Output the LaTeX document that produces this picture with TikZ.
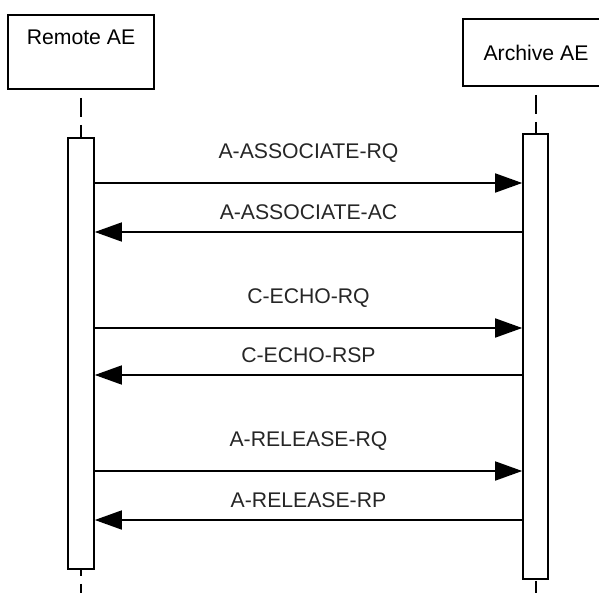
\documentclass[tikz,border=0pt]{standalone}
\usepackage{fontspec}
\setmainfont{Liberation Sans}
\usetikzlibrary{positioning, arrows.meta}
\tikzset{
x=0.5pt, y=-0.5pt, % one unit is one pixel of the drawing, y runs down
actor/.style={draw, thick, fill=white, minimum width=73pt, inner sep=0pt, font=\fontsize{10.6pt}{12pt}\selectfont}, % the boxes on top
bar/.style={draw, thick, fill=white, minimum width=13pt, anchor=north}, % activation bars
lifeline/.style={thick, dash pattern=on 9.5pt off 4pt, dash phase=9.5pt},
msg/.style={thick, -{Triangle[length=13.5pt, width=9.5pt]}}, % message arrows
rq/.style={midway, yshift=15pt, text=black!85, font=\fontsize{10.6pt}{12pt}\selectfont},
rsp/.style={rq, yshift=-5pt},
}
\begin{document}
\begin{tikzpicture}
        \useasboundingbox (0,0) rectangle (599,593);
        \clip (0,0) rectangle (599,593);

        \node[actor, minimum height=37pt, text height=8pt, text depth=15.4pt] (remote) at (81,52) {Remote AE};
        \node[actor, minimum height=33.5pt] (archive) at (536,52.5) {Archive AE};

        \draw[lifeline] (remote) -- (remote |- 0,593);
        \draw[lifeline] (archive) -- (archive |- 0,593);

        \node[bar, minimum height=215.5pt] (remoteact) at (81,137) {};
        \node[bar, minimum height=222.5pt, minimum width=12.5pt] (archiveact) at (535.5,133) {};

        \draw[msg] (remoteact.east |- 0,183) -- node[rq] {A-ASSOCIATE-RQ} (archiveact.west |- 0,183);
        \draw[msg] (archiveact.west |- 0,232) -- node[rsp] {A-ASSOCIATE-AC} (remoteact.east |- 0,232);
        \draw[msg] (remoteact.east |- 0,328) -- node[rq] {C-ECHO-RQ} (archiveact.west |- 0,328);
        \draw[msg] (archiveact.west |- 0,375) -- node[rsp] {C-ECHO-RSP} (remoteact.east |- 0,375);
        \draw[msg] (remoteact.east |- 0,471) -- node[rq] {A-RELEASE-RQ} (archiveact.west |- 0,471);
        \draw[msg] (archiveact.west |- 0,520) -- node[rsp] {A-RELEASE-RP} (remoteact.east |- 0,520);

    \end{tikzpicture}
\end{document}
